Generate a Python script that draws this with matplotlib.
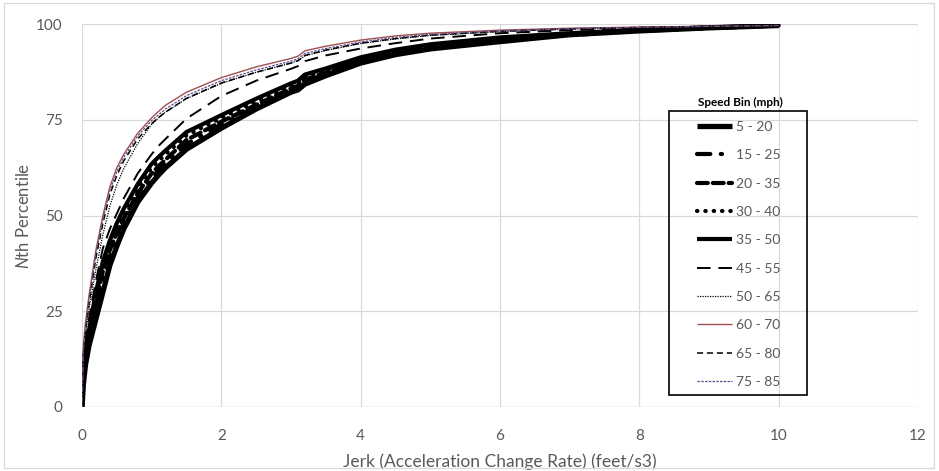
import matplotlib
matplotlib.use("Agg")
import matplotlib.pyplot as plt
from matplotlib.patches import Rectangle

plt.rcParams['font.family'] = ['Lato', 'DejaVu Sans']
plt.rcParams['mathtext.fontset'] = 'custom'
plt.rcParams['mathtext.rm'] = 'Lato'
plt.rcParams['mathtext.it'] = 'Lato:italic'

# Jerk values (feet/s3) at which the cumulative percentiles are sampled
jerk = [0, 0.02, 0.05, 0.1, 0.2, 0.3, 0.4, 0.5, 0.6, 0.8, 1.0, 1.1, 1.2, 1.5,
        2.0, 2.5, 3.0, 3.1, 3.2, 3.5, 4.0, 4.5, 5, 6, 7, 8, 9, 10]

bin_5_20 = [0, 6, 11, 16, 23, 30, 37, 42, 46.5, 53.5, 58.5, 60.6, 62.5, 67.3,
            72.8, 77.8, 82.2, 82.8, 84.3, 86.5, 89.8, 92, 93.5, 95.4, 97.2, 98.2, 99.0, 99.6]
bin_15_25 = [0, 6.5, 11.5, 17, 25.5, 33, 39.5, 44, 48, 54.7, 59.8, 61.8, 63.6, 68.6,
             73.8, 78.3, 82.6, 83.3, 84.9, 86.9, 90.2, 92.4, 94.0, 95.8, 97.1, 98.2, 98.9, 99.6]
bin_20_35 = [0, 7, 12, 18, 27.5, 35.5, 41, 45.5, 49.3, 55.8, 61, 62.9, 64.6, 69.7,
             74.5, 78.9, 83.2, 83.9, 85.5, 87.3, 90.6, 92.7, 94.3, 96.1, 97.3, 98.3, 99.0, 99.6]
bin_30_40 = [0, 8, 13, 19, 29, 37, 42.5, 47, 50.8, 57.2, 62.5, 64.3, 66.0, 70.9,
             75.5, 79.8, 83.9, 84.6, 86.2, 87.9, 90.9, 93, 94.5, 96.3, 97.5, 98.4, 99.1, 99.6]
bin_35_50 = [0, 9, 14, 20, 30, 38, 43.5, 48, 51.8, 58.2, 63.5, 65.3, 67.0, 71.8,
             76.2, 80.5, 84.5, 85.2, 86.8, 88.4, 91.3, 93.3, 94.7, 96.5, 97.6, 98.5, 99.1, 99.6]
bin_45_55 = [0, 12, 17, 23, 33, 41.5, 46.5, 50.5, 54.5, 61, 66, 68.2, 70.0, 75.3,
             81.2, 85.2, 88.3, 89.0, 90.3, 91.8, 93.6, 95, 96.2, 97.6, 98.4, 99.0, 99.3, 99.6]
bin_50_65 = [0, 14, 19, 25.5, 36, 45, 52.5, 58, 62.3, 68.8, 73.8, 75.5, 77, 80.5,
             84.5, 87.4, 89.8, 90.4, 91.7, 93.1, 94.9, 96.1, 97.0, 98.0, 98.7, 99.1, 99.4, 99.6]
bin_60_70 = [0, 16, 22, 29, 41, 50, 57.5, 62.5, 66, 71.5, 75.5, 77.2, 78.8, 82.2,
             86, 88.8, 91, 91.6, 93.0, 94.2, 95.8, 96.9, 97.6, 98.4, 98.9, 99.2, 99.4, 99.6]
bin_65_80 = [0, 14, 20, 27, 39, 48, 55.5, 60.5, 64.3, 70, 74, 75.6, 77, 80.6,
             84.6, 87.4, 89.8, 90.4, 91.8, 93.2, 95, 96.2, 97.1, 98.1, 98.7, 99.1, 99.4, 99.6]
bin_75_85 = [0, 15, 21, 28, 40, 49, 56.5, 61.5, 65.2, 70.8, 74.8, 76.3, 77.8, 81.3,
             85.2, 88.0, 90.3, 90.9, 92.3, 93.6, 95.3, 96.5, 97.3, 98.2, 98.8, 99.1, 99.4, 99.6]

labels = ['5 - 20', '15 - 25', '20 - 35', '30 - 40', '35 - 50',
          '45 - 55', '50 - 65', '60 - 70', '65 - 80', '75 - 85']
series = [bin_5_20, bin_15_25, bin_20_35, bin_30_40, bin_35_50,
          bin_45_55, bin_50_65, bin_60_70, bin_65_80, bin_75_85]

styles = [
    dict(color='black', lw=3.8, ls='-'),
    dict(color='black', lw=3.0, ls=(0, (3.2, 2.5, 0.3, 2.5)), dash_capstyle='round'),
    dict(color='black', lw=3.0, ls=(0, (2.6, 1.2)), dash_capstyle='round'),
    dict(color='black', lw=3.0, ls=(0, (0.1, 1.9)), dash_capstyle='round'),
    dict(color='black', lw=3.0, ls='-'),
    dict(color='black', lw=1.4, ls=(0, (7, 4))),
    dict(color='black', lw=0.9, ls=(0, (1, 1))),
    dict(color='#a0504f', lw=1.0, ls='-'),
    dict(color='black', lw=1.1, ls=(0, (4, 2.5))),
    dict(color='#5f4b8b', lw=0.9, ls=(0, (2, 1))),
]

W, H = 939, 471
fig = plt.figure(figsize=(W / 100, H / 100), dpi=100)
ax = fig.add_axes([82 / W, 1 - 407 / H, (918 - 82) / W, (407 - 24) / H])

for y, lab, st in zip(series, labels, styles):
    ax.plot(jerk, y, label=lab, solid_capstyle='butt', **st)

grid_c = '#d9d9d9'
txt_c = '#595959'
ax.set_xlim(0, 12)
ax.set_ylim(0, 100)
ax.set_xticks(range(0, 13, 2))
ax.set_yticks([0, 25, 50, 75, 100])
ax.grid(True, color=grid_c, lw=0.9)
ax.set_axisbelow(True)
for s in ax.spines.values():
    s.set_visible(False)
ax.axhline(0, color=grid_c, lw=0.9, zorder=0.5)
ax.tick_params(length=0, labelsize=11, colors=txt_c)
ax.tick_params(axis='y', pad=14)
ax.tick_params(axis='x', pad=16)
ax.set_xlabel('Jerk (Acceleration Change Rate) (feet/s3)', fontsize=12.5, color=txt_c, labelpad=7)
ax.set_ylabel(r'$N$th Percentile', fontsize=12, color=txt_c, labelpad=3)

# legend entries, framed by a separate rectangle with the title above it
leg = ax.legend(loc='upper left', bbox_to_anchor=(697 / W, 1 - 121 / H),
                bbox_transform=fig.transFigure, frameon=False,
                fontsize=10, handlelength=2.52, handletextpad=0.3,
                labelspacing=1.175, borderpad=0, borderaxespad=0)
for t in leg.get_texts():
    t.set_color(txt_c)
fig.patches.append(Rectangle((669 / W, 1 - 395 / H), (807 - 669) / W, (395 - 111) / H,
                             transform=fig.transFigure, fill=False,
                             edgecolor='black', lw=1.2, zorder=5))
fig.text(740 / W, 1 - 102 / H, 'Speed Bin (mph)', ha='center', va='center',
         fontsize=8.5, fontweight='bold', color='black')

# light outline around the whole chart
fig.patches.append(Rectangle((4 / W, 3 / H), (934 - 4) / W, (468 - 3) / H,
                             transform=fig.transFigure, fill=False,
                             edgecolor=grid_c, lw=0.9))

fig.savefig('out.png', dpi=100)
